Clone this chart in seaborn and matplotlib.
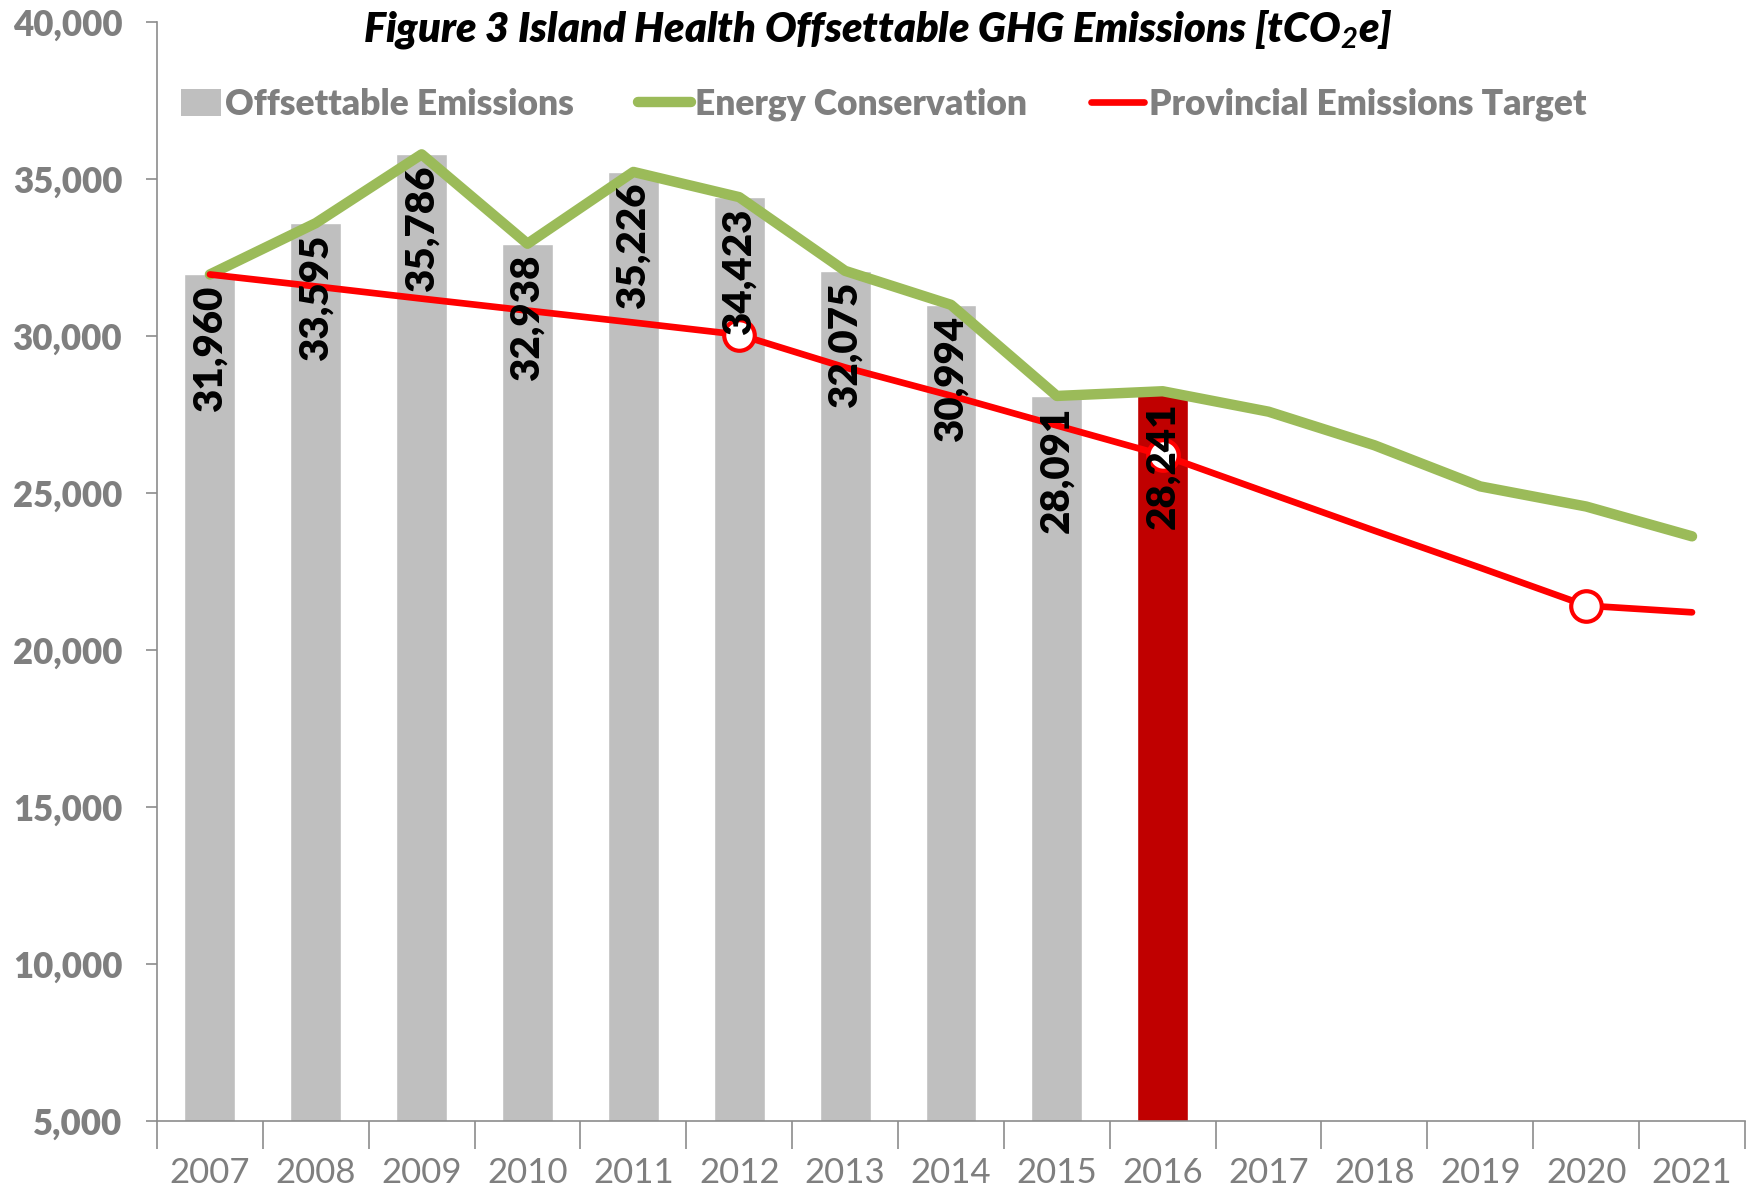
import numpy as np
import pandas as pd
import seaborn as sns
import matplotlib.pyplot as plt
from matplotlib.patches import Patch, Rectangle
from matplotlib.lines import Line2D
from matplotlib.legend_handler import HandlerPatch

# Data
years = ["2007", "2008", "2009", "2010", "2011", "2012", "2013", "2014",
         "2015", "2016", "2017", "2018", "2019", "2020", "2021"]
bar_years = years[:10]
offsettable = [31960, 33595, 35786, 32938, 35226, 34423, 32075, 30994, 28091, 28241]
energy_conservation = [31960, 33595, 35786, 32938, 35226, 34423, 32075, 30994,
                       28091, 28241, 27590, 26520, 25210, 24570, 23620]
provincial_target = [31960, 31580, 31190, 30810, 30430, 30042, 29000, 28100,
                     27150, 26207, 25000, 23800, 22620, 21413, 21200]
target_marker_years = ["2012", "2016", "2020"]

GRAY_TXT = "#7F7F7F"
BAR_GRAY = "#BFBFBF"
BAR_RED = "#C00000"
GREEN = "#9BBB59"
RED = "#FF0000"

sns.set_theme(style="white")
plt.rcParams["font.family"] = ["Lato", "DejaVu Sans"]
plt.rcParams["mathtext.fontset"] = "custom"
plt.rcParams["mathtext.rm"] = "Lato:bold:italic"
plt.rcParams["mathtext.it"] = "Lato:bold:italic"
plt.rcParams["mathtext.bf"] = "Lato:bold:italic"

fig = plt.figure(figsize=(17.46, 11.90), dpi=100)
ax = fig.add_axes([0.0899, 0.058, 0.9095, 0.9235])

bars = pd.DataFrame({"year": bar_years, "value": offsettable})
colors = [BAR_GRAY] * 9 + [BAR_RED]
sns.barplot(data=bars, x="year", y="value", hue="year", palette=colors,
            order=years, width=0.48, saturation=1, legend=False, ax=ax, zorder=2)

pos = np.arange(len(years))
sns.lineplot(x=pos, y=energy_conservation, color=GREEN, linewidth=7.5,
             sort=False, ax=ax, zorder=3)
sns.lineplot(x=pos, y=provincial_target, color=RED, linewidth=4.8,
             sort=False, ax=ax, zorder=4)
mk = [years.index(y) for y in target_marker_years]
ax.plot(pos[mk], np.array(provincial_target)[mk], linestyle="none", marker="o",
        markersize=22, markerfacecolor="white", markeredgecolor=RED,
        markeredgewidth=3, zorder=5)

# bar value labels
for i, v in enumerate(offsettable):
    ax.annotate(f"{v:,}", (i, v), xytext=(0, -8), textcoords="offset points",
                rotation=90, ha="center", va="top", fontsize=29,
                fontweight="heavy", color="black", zorder=6)

ax.set_ylim(5000, 40000)
ax.set_xlim(-0.5, len(years) - 0.5)
ax.set_yticks(range(5000, 40001, 5000))
ax.set_yticklabels([f"{t:,}" for t in range(5000, 40001, 5000)],
                   fontsize=25, fontweight="heavy", color=GRAY_TXT)
ax.set_xticks(pos)
ax.set_xticklabels(years, fontsize=25, color=GRAY_TXT)
ax.tick_params(axis="x", length=0, pad=26)
ax.set_xticks(np.arange(-0.5, len(years), 1), minor=True)
ax.tick_params(axis="x", which="minor", length=20, width=1.2, color="#8C8C8C",
               direction="out", bottom=True)
ax.tick_params(axis="y", length=8, width=1.2, color="#8C8C8C",
               direction="out", left=True, pad=17)
ax.set_xlabel("")
ax.set_ylabel("")
for s in ["top", "right"]:
    ax.spines[s].set_visible(False)
for s in ["left", "bottom"]:
    ax.spines[s].set_color("#8C8C8C")
    ax.spines[s].set_linewidth(1.2)


def small_square(legend, orig_handle, xdescent, ydescent, width, height, fontsize):
    w = width * 0.75
    return Rectangle((width - w - xdescent, -ydescent - height * 0.05), w, height * 1.1)


handles = [Patch(facecolor=BAR_GRAY, edgecolor="none"),
           Line2D([], [], color=GREEN, linewidth=7.5, solid_capstyle="round"),
           Line2D([], [], color=RED, linewidth=4.8, solid_capstyle="round")]
labels = ["Offsettable Emissions", "Energy Conservation", "Provincial Emissions Target"]
leg = ax.legend(handles, labels, loc="center left", bbox_to_anchor=(0.007, 0.925),
                ncol=3, frameon=False, fontsize=25.5, handlelength=1.5,
                handletextpad=0.12, columnspacing=1.8, borderaxespad=0,
                borderpad=0, handler_map={Patch: HandlerPatch(patch_func=small_square)})
for t in leg.get_texts():
    t.set_color(GRAY_TXT)
    t.set_fontweight("heavy")

fig.text(0.503, 0.975, "Figure 3 Island Health Offsettable GHG Emissions [tCO$_2$e]",
         ha="center", va="center", fontsize=30, fontweight="heavy",
         fontstyle="italic", color="black")

fig.savefig("out.png", dpi=100)
